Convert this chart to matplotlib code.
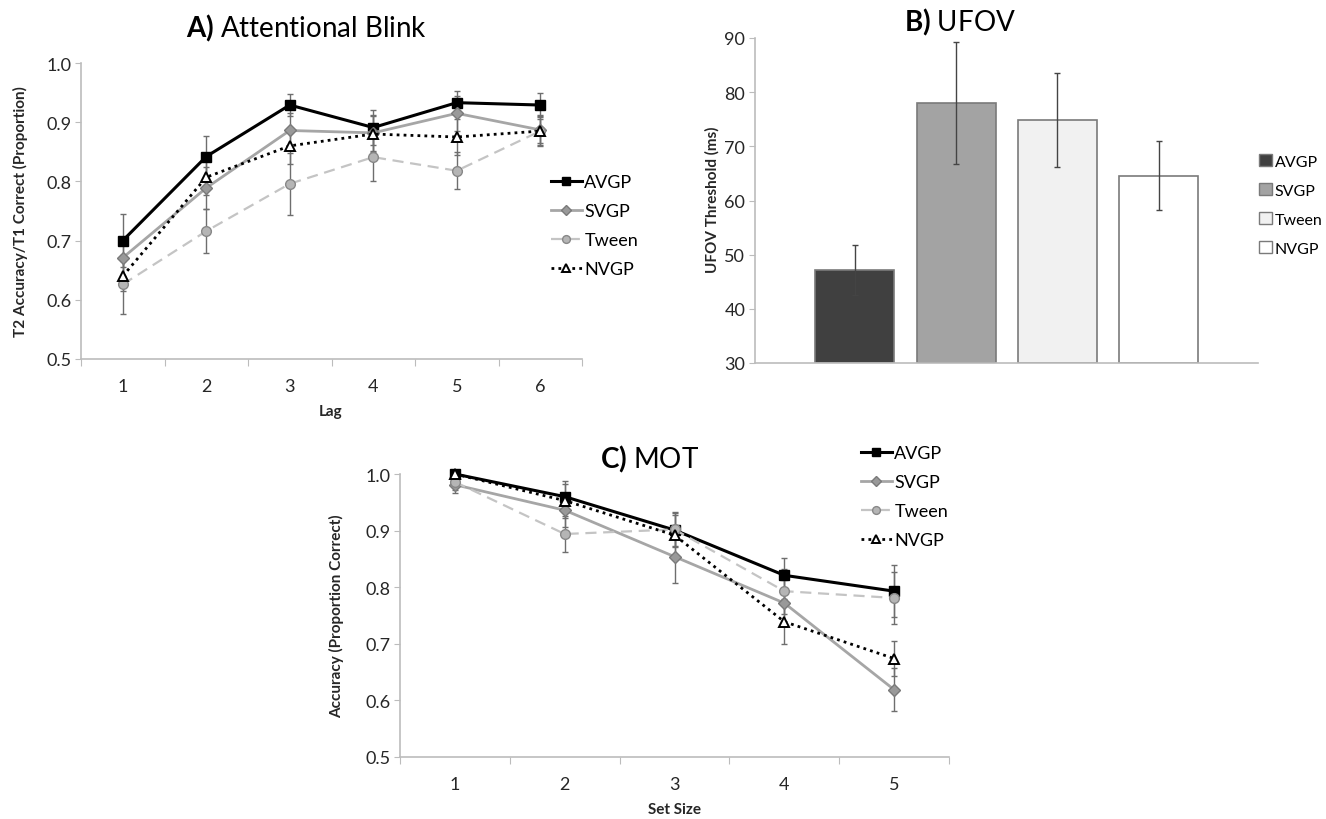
import numpy as np
import matplotlib
matplotlib.use("Agg")
import matplotlib.pyplot as plt
from matplotlib.lines import Line2D
from matplotlib.patches import Patch

plt.rcParams['font.family'] = ['Lato', 'DejaVu Sans']
plt.rcParams['mathtext.fontset'] = 'custom'
plt.rcParams['mathtext.bf'] = 'Lato:bold'
plt.rcParams['mathtext.rm'] = 'Lato'

groups = ['AVGP', 'SVGP', 'Tween', 'NVGP']

# A) Attentional blink
lags = [1, 2, 3, 4, 5, 6]
ab_avgp = [0.700, 0.842, 0.929, 0.891, 0.933, 0.929]
ab_svgp = [0.671, 0.789, 0.886, 0.882, 0.915, 0.887]
ab_tween = [0.626, 0.716, 0.796, 0.841, 0.818, 0.885]
ab_nvgp = [0.640, 0.807, 0.860, 0.880, 0.875, 0.885]
ab_avgp_err = [0.045, 0.034, 0.018, 0.030, 0.020, 0.020]
ab_svgp_err = [0.030, 0.035, 0.030, 0.030, 0.030, 0.025]
ab_tween_err = [0.050, 0.037, 0.052, 0.040, 0.031, 0.025]
ab_nvgp_err = [0.025, 0.030, 0.030, 0.030, 0.030, 0.020]

# B) UFOV
ufov = [47.2, 78.0, 74.9, 64.6]
ufov_err = [4.6, 11.2, 8.7, 6.3]

# C) MOT
set_sizes = [1, 2, 3, 4, 5]
mot_avgp = [1.000, 0.960, 0.901, 0.821, 0.793]
mot_svgp = [0.981, 0.936, 0.854, 0.772, 0.619]
mot_tween = [0.986, 0.894, 0.902, 0.793, 0.781]
mot_nvgp = [1.000, 0.953, 0.892, 0.739, 0.674]
mot_avgp_err = [0.005, 0.028, 0.030, 0.031, 0.046]
mot_svgp_err = [0.015, 0.030, 0.046, 0.040, 0.038]
mot_tween_err = [0.015, 0.032, 0.030, 0.040, 0.046]
mot_nvgp_err = [0.005, 0.030, 0.035, 0.040, 0.031]

W, H = 1326, 820
fig = plt.figure(figsize=(W / 100, H / 100), dpi=100)

def fx(px):
    return px / W

def fy(py):
    return 1 - py / H

axis_col = '#bcbcbc'
txt_col = '#262626'
styles = {
    'AVGP': dict(color='black', lw=2.2, ls='-', marker='s', ms=7, mfc='black', mec='black'),
    'SVGP': dict(color='#a6a6a6', lw=2.0, ls='-', marker='D', ms=6.5, mfc='#999999', mec='#7a7a7a'),
    'Tween': dict(color='#c4c4c4', lw=1.6, ls=(0, (5, 3)), marker='o', ms=7, mfc='#b5b5b5', mec='#888888'),
    'NVGP': dict(color='black', lw=2.0, ls=(0, (1, 1.5)), marker='^', ms=7.5, mfc='white', mec='black', mew=1.4),
}

def style_axes(ax):
    for s in ['top', 'right']:
        ax.spines[s].set_visible(False)
    for s in ['left', 'bottom']:
        ax.spines[s].set_color(axis_col)
        ax.spines[s].set_linewidth(1.2)
    ax.tick_params(axis='y', direction='out', length=4, color=axis_col, labelsize=13,
                   labelcolor=txt_col, pad=3)

def line_panel(ax, xs, series, errs):
    for g, ys, e in zip(groups, series, errs):
        st = styles[g]
        ax.errorbar(xs, ys, yerr=e, fmt='none', ecolor='#6e6e6e', elinewidth=1.0,
                    capsize=2, capthick=1.0, zorder=2)
        ax.plot(xs, ys, label=g, zorder=3, **st)
    n = len(xs)
    ax.set_xlim(0.5, n + 0.5)
    ax.set_ylim(0.5, 1.0)
    ax.set_yticks(np.arange(0.5, 1.01, 0.1))
    ax.set_yticklabels(['%.1f' % v for v in np.arange(0.5, 1.01, 0.1)])
    ax.set_xticks(np.arange(0.5, n + 1, 1.0))
    ax.set_xticklabels([])
    ax.set_xticks(xs, minor=True)
    ax.set_xticklabels([str(x) for x in xs], minor=True)
    ax.tick_params(axis='x', which='major', direction='out', length=5, color=axis_col)
    ax.tick_params(axis='x', which='minor', length=0, labelsize=13, labelcolor=txt_col, pad=14)

def line_legend(ax, x, y):
    handles = []
    for g in groups:
        st = dict(styles[g])
        ms = st.pop('ms')
        handles.append(Line2D([], [], ms=ms * 0.8, **st))
    ax.legend(handles, groups, loc='upper left', bbox_to_anchor=(fx(x), fy(y)),
              bbox_transform=fig.transFigure, frameon=False, fontsize=13,
              handlelength=1.7, handletextpad=0.15, labelspacing=0.72,
              borderpad=0, borderaxespad=0)

# ---- panel A
axA = fig.add_axes([fx(81), fy(360), fx(582 - 81), (360 - 64) / H])
style_axes(axA)
line_panel(axA, lags, [ab_avgp, ab_svgp, ab_tween, ab_nvgp],
           [ab_avgp_err, ab_svgp_err, ab_tween_err, ab_nvgp_err])
line_legend(axA, 551, 175)
fig.text(fx(306), fy(28), r'$\bf{A)}$ Attentional Blink', ha='center', va='center', fontsize=20)
fig.text(fx(20), fy(212), 'T2 Accuracy/T1 Correct (Proportion)', rotation=90, ha='center',
         va='center', fontsize=11, fontweight='bold', color=txt_col)
fig.text(fx(331), fy(412), 'Lag', ha='center', va='center', fontsize=11,
         fontweight='bold', color=txt_col)

# ---- panel B
axB = fig.add_axes([fx(755), fy(364), fx(1258 - 755), (364 - 39) / H])
style_axes(axB)
bar_cols = ['#404040', '#a3a3a3', '#f1f1f1', '#ffffff']
xb = np.arange(len(groups))
axB.bar(xb, [v - 30 for v in ufov], bottom=30, width=0.78, color=bar_cols,
        edgecolor='#7a7a7a', linewidth=1.2, zorder=2)
axB.errorbar(xb, ufov, yerr=ufov_err, fmt='none', ecolor='#444444', elinewidth=1.0,
             capsize=2, capthick=1.0, zorder=3)
axB.set_xlim(-0.987, 3.98)
axB.set_ylim(30, 90)
axB.set_yticks(range(30, 91, 10))
axB.set_xticks([])
axB.legend([Patch(facecolor=c, edgecolor='#7a7a7a') for c in bar_cols], groups,
           loc='upper left', bbox_to_anchor=(fx(1259), fy(155)), bbox_transform=fig.transFigure,
           frameon=False, fontsize=11.5, handlelength=0.8, handleheight=0.8,
           handletextpad=0.2, labelspacing=0.9, borderpad=0, borderaxespad=0)
fig.text(fx(960), fy(22), r'$\bf{B)}$ UFOV', ha='center', va='center', fontsize=20)
fig.text(fx(712), fy(200), 'UFOV Threshold (ms)', rotation=90, ha='center',
         va='center', fontsize=11, fontweight='bold', color=txt_col)

# ---- panel C
axC = fig.add_axes([fx(400), fy(758), fx(949 - 400), (758 - 475) / H])
style_axes(axC)
line_panel(axC, set_sizes, [mot_avgp, mot_svgp, mot_tween, mot_nvgp],
           [mot_avgp_err, mot_svgp_err, mot_tween_err, mot_nvgp_err])
for ln in axC.lines:
    ln.set_clip_on(False)
line_legend(axC, 861, 446)
fig.text(fx(650), fy(459), r'$\bf{C)}$ MOT', ha='center', va='center', fontsize=20)
fig.text(fx(337), fy(616), 'Accuracy (Proportion Correct)', rotation=90, ha='center',
         va='center', fontsize=11, fontweight='bold', color=txt_col)
fig.text(fx(674), fy(810), 'Set Size', ha='center', va='center', fontsize=11,
         fontweight='bold', color=txt_col)

fig.savefig('out.png', dpi=100, facecolor='white')
